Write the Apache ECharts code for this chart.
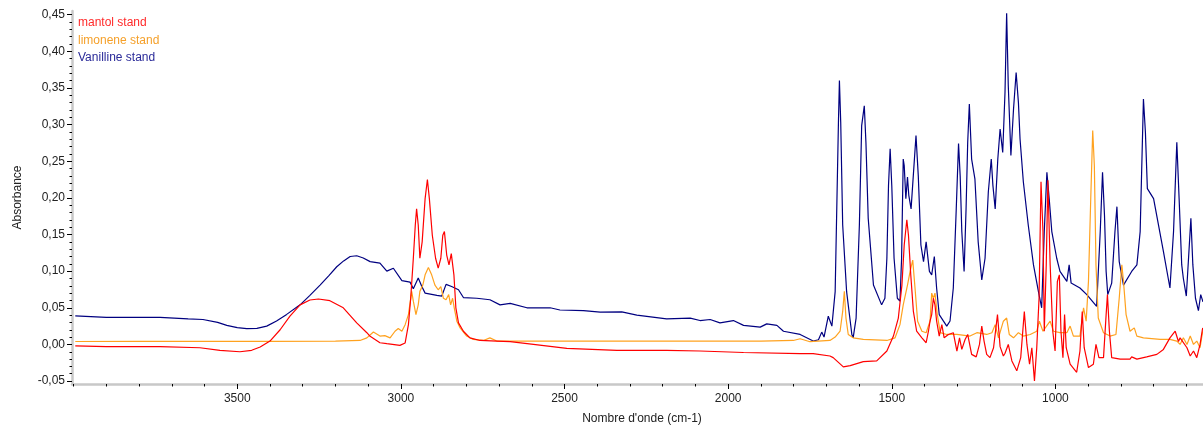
<!DOCTYPE html>
<html>
<head>
<meta charset="utf-8">
<script src="https://cdn.jsdelivr.net/npm/echarts@6/dist/echarts.min.js"></script>
<style>
html,body{margin:0;padding:0;background:#fff;}
#chart{width:1203px;height:430px;}
</style>
</head>
<body>
<div id="chart"></div>
<script>
// ---- data: [wavenumber (cm-1), absorbance] ----
const seriesNames = ['mantol stand', 'limonene stand', 'Vanilline stand'];

const mantolData = [
[3995,-0.002],[3900,-0.003],[3736,-0.003],[3614,-0.0045],[3553,-0.008],[3492,-0.010],[3456,-0.008],
[3430,-0.0035],[3400,0.0046],[3369,0.020],[3339,0.0385],[3308,0.054],[3278,0.0606],[3252,0.062],
[3217,0.0597],[3176,0.050],[3135,0.0294],[3104,0.016],[3094,0.011],[3064,0.0023],[3043,0.001],
[3003,-0.0013],[2987,0.002],[2977,0.027],[2970,0.063],[2962,0.1176],[2956,0.163],[2952,0.185],
[2947,0.163],[2942,0.1176],[2935,0.14],[2926,0.199],[2919,0.225],[2913,0.199],[2904,0.149],
[2894,0.1176],[2886,0.104],[2878,0.1176],[2872,0.149],[2867,0.154],[2860,0.122],[2853,0.1085],
[2846,0.124],[2843,0.126],[2838,0.095],[2832,0.05],[2824,0.0294],[2809,0.018],[2789,0.009],
[2758,0.0054],[2707,0.0046],[2666,0.0037],[2595,0.0],[2493,-0.0054],[2340,-0.008],[2188,-0.008],
[2086,-0.009],[1953,-0.011],[1780,-0.0126],[1740,-0.0126],[1689,-0.0158],[1679,-0.018],
[1648,-0.0307],[1627,-0.029],[1587,-0.0235],[1546,-0.0225],[1515,-0.009],[1495,0.0114],
[1480,0.036],[1469,0.081],[1462,0.1357],[1454,0.17],[1449,0.149],[1442,0.095],[1434,0.045],
[1424,0.018],[1408,0.009],[1395,0.0023],[1388,0.018],[1383,0.032],[1378,0.0407],[1373,0.063],
[1368,0.054],[1363,0.032],[1355,0.0114],[1347,0.027],[1340,0.009],[1327,0.0136],[1312,0.016],
[1301,-0.009],[1293,0.009],[1286,-0.0068],[1276,0.0068],[1268,0.0136],[1256,-0.0136],
[1242,-0.017],[1232,0.0],[1225,0.025],[1218,0.0046],[1210,-0.0136],[1200,-0.018],[1189,-0.0045],
[1177,0.0407],[1169,-0.003],[1159,-0.0158],[1154,-0.012],[1144,0.0],[1133,-0.0225],[1118,-0.036],
[1106,-0.018],[1095,0.045],[1087,0.0],[1079,-0.027],[1072,-0.0045],[1064,-0.0497],[1057,-0.0045],
[1050,0.063],[1044,0.222],[1038,0.154],[1034,0.018],[1028,0.1085],[1023,0.224],[1016,0.1085],
[1008,0.018],[1001,-0.009],[994,0.086],[988,0.095],[983,0.018],[977,-0.018],[972,0.0407],
[967,-0.0045],[955,-0.027],[935,-0.038],[925,-0.009],[918,0.045],[912,-0.0045],[899,-0.0316],
[884,-0.027],[876,0.0],[867,-0.018],[853,-0.018],[845,0.0407],[841,0.068],[835,0.018],
[828,-0.018],[802,-0.02],[772,-0.02],[767,-0.017],[751,-0.02],[721,-0.017],[690,-0.0136],
[670,-0.0068],[650,0.009],[634,0.018],[624,0.004],[619,0.009],[598,-0.0045],[588,-0.0158],
[578,-0.009],[568,-0.018],[558,0.0],[550,0.0226]
];

const limoneneData = [
[3995,0.004],[3800,0.0042],[3600,0.0042],[3400,0.0042],[3200,0.0045],[3125,0.0054],[3104,0.009],
[3084,0.017],[3064,0.0114],[3049,0.012],[3033,0.009],[3018,0.018],[3008,0.0217],[2997,0.018],
[2987,0.027],[2977,0.0407],[2967,0.0724],[2962,0.059],[2954,0.0407],[2947,0.054],[2942,0.0724],
[2933,0.081],[2926,0.095],[2916,0.105],[2906,0.095],[2896,0.081],[2886,0.0746],[2878,0.079],
[2870,0.063],[2862,0.061],[2854,0.068],[2848,0.054],[2842,0.063],[2837,0.05],[2829,0.0317],
[2819,0.0226],[2799,0.0114],[2779,0.0068],[2748,0.0054],[2728,0.009],[2707,0.0046],[2500,0.0046],
[2200,0.0046],[1900,0.0046],[1801,0.0054],[1780,0.0077],[1750,0.0037],[1689,0.0054],[1673,0.010],
[1658,0.018],[1650,0.045],[1645,0.0724],[1640,0.036],[1633,0.0136],[1618,0.009],[1587,0.0068],
[1515,0.0054],[1490,0.009],[1475,0.027],[1465,0.054],[1452,0.081],[1444,0.0996],[1436,0.115],
[1429,0.077],[1421,0.0317],[1408,0.018],[1395,0.016],[1383,0.032],[1378,0.070],[1373,0.063],
[1368,0.070],[1361,0.0407],[1352,0.016],[1332,0.0136],[1301,0.0136],[1261,0.0114],[1240,0.016],
[1210,0.0136],[1194,0.016],[1184,0.027],[1174,0.009],[1159,0.0317],[1149,0.036],[1141,0.0136],
[1128,0.009],[1113,0.016],[1098,0.0114],[1077,0.0136],[1057,0.018],[1049,0.0317],[1038,0.018],
[1024,0.027],[1016,0.0317],[1006,0.018],[986,0.016],[965,0.016],[955,0.025],[945,0.0114],
[925,0.0114],[914,0.05],[906,0.0317],[899,0.086],[892,0.199],[886,0.292],[881,0.244],[876,0.1085],
[869,0.036],[853,0.016],[833,0.0114],[815,0.0136],[805,0.063],[797,0.1085],[792,0.086],
[784,0.0407],[772,0.018],[759,0.0226],[751,0.0114],[731,0.009],[680,0.0068],[650,0.0068],
[629,0.0046],[619,0.0],[609,0.009],[598,0.0],[588,0.0114],[578,0.0],[568,0.0046],[558,-0.0045],
[550,0.018]
];

const vanillineData = [
[3995,0.039],[3900,0.037],[3800,0.037],[3736,0.037],[3650,0.035],[3605,0.034],[3560,0.030],
[3532,0.026],[3500,0.023],[3471,0.0215],[3440,0.022],[3410,0.025],[3380,0.032],[3349,0.041],
[3308,0.054],[3278,0.067],[3247,0.081],[3220,0.094],[3196,0.106],[3175,0.114],[3155,0.12],
[3135,0.121],[3115,0.118],[3094,0.113],[3064,0.111],[3043,0.100],[3023,0.104],[2997,0.087],
[2972,0.085],[2962,0.076],[2947,0.0905],[2936,0.079],[2926,0.070],[2890,0.067],[2875,0.066],
[2862,0.082],[2845,0.079],[2824,0.0746],[2809,0.064],[2768,0.063],[2728,0.061],[2697,0.054],
[2666,0.056],[2615,0.050],[2544,0.050],[2514,0.047],[2442,0.046],[2391,0.044],[2325,0.0444],
[2279,0.040],[2188,0.035],[2116,0.036],[2086,0.0326],[2055,0.034],[2025,0.0294],[1984,0.0326],
[1953,0.026],[1902,0.0236],[1882,0.028],[1851,0.026],[1831,0.018],[1780,0.0136],[1740,0.0046],
[1724,0.0064],[1714,0.0168],[1707,0.010],[1694,0.0385],[1683,0.025],[1673,0.072],[1663,0.303],
[1660,0.36],[1656,0.303],[1650,0.163],[1638,0.072],[1622,0.0136],[1618,0.009],[1609,0.036],
[1599,0.163],[1592,0.2985],[1584,0.3256],[1579,0.276],[1572,0.172],[1556,0.081],[1531,0.054],
[1521,0.063],[1515,0.1176],[1510,0.217],[1505,0.267],[1500,0.217],[1493,0.1176],[1483,0.063],
[1475,0.059],[1470,0.1176],[1465,0.253],[1462,0.244],[1457,0.199],[1452,0.2285],[1448,0.2035],
[1441,0.185],[1426,0.285],[1419,0.23],[1411,0.1357],[1403,0.113],[1395,0.14],[1385,0.0996],
[1378,0.095],[1370,0.12],[1363,0.077],[1355,0.0407],[1342,0.0317],[1332,0.025],[1322,0.032],
[1312,0.077],[1303,0.185],[1296,0.274],[1291,0.23],[1286,0.154],[1279,0.0996],[1273,0.185],
[1268,0.276],[1263,0.328],[1256,0.253],[1246,0.226],[1236,0.14],[1225,0.088],[1215,0.1176],
[1205,0.208],[1196,0.253],[1191,0.217],[1184,0.185],[1176,0.253],[1169,0.294],[1161,0.262],
[1154,0.344],[1149,0.452],[1144,0.353],[1136,0.258],[1128,0.321],[1120,0.371],[1113,0.33],
[1108,0.28],[1098,0.222],[1083,0.163],[1067,0.1085],[1052,0.0724],[1042,0.05],[1034,0.154],
[1026,0.235],[1019,0.199],[1011,0.154],[996,0.1176],[986,0.0996],[965,0.086],[958,0.1085],
[952,0.0837],[925,0.077],[904,0.068],[874,0.052],[863,0.154],[856,0.235],[850,0.176],[845,0.0996],
[840,0.068],[828,0.0837],[818,0.154],[812,0.188],[805,0.113],[792,0.081],[767,0.0996],
[751,0.1085],[741,0.154],[731,0.335],[725,0.29],[719,0.2126],[700,0.199],[670,0.127],[650,0.077],
[639,0.154],[629,0.276],[622,0.199],[614,0.1085],[609,0.09],[600,0.066],[586,0.172],[580,0.1085],
[572,0.063],[563,0.046],[556,0.068],[549,0.058]
];

// ---- axis ticks ----
const xTickLabels = [3500, 3000, 2500, 2000, 1500, 1000];
const xMinorTicks = [600,700,800,900,1000,1100,1200,1300,1400,1500,1600,1700,1800,1900,2000,2100,2200,2300,2400,2500,2600,2700,2800,2900,3000,3100,3200,3300,3400,3500,3600,3700,3800,3900,4000];
const yTickLabels = [-0.05, 0.00, 0.05, 0.10, 0.15, 0.20, 0.25, 0.30, 0.35, 0.40, 0.45];
const yMinorTicks = [-0.05,-0.04,-0.03,-0.02,-0.01,0,0.01,0.02,0.03,0.04,0.05,0.06,0.07,0.08,0.09,0.10,0.11,0.12,0.13,0.14,0.15,0.16,0.17,0.18,0.19,0.20,0.21,0.22,0.23,0.24,0.25,0.26,0.27,0.28,0.29,0.30,0.31,0.32,0.33,0.34,0.35,0.36,0.37,0.38,0.39,0.40,0.41,0.42,0.43,0.44,0.45];

const colors = { mantol: '#ff0000', limonene: '#ffa21f', vanilline: '#000080' };
const FONT = 'Arial, "Liberation Sans", sans-serif';
const X_MIN = 549, X_MAX = 4005, Y_MIN = -0.054, Y_MAX = 0.455;

const chart = echarts.init(document.getElementById('chart'), null, { renderer: 'canvas' });

const baseX = {
  type: 'value', min: X_MIN, max: X_MAX, inverse: true, gridIndex: 0,
  splitLine: { show: false }
};
const baseY = {
  type: 'value', min: Y_MIN, max: Y_MAX, gridIndex: 0,
  splitLine: { show: false }
};

chart.setOption({
  animation: false,
  backgroundColor: '#ffffff',
  grid: { left: 72, right: 0, top: 11, bottom: 43.5, containLabel: false },
  legend: {
    orient: 'vertical', left: 73, top: 16.5, padding: 0, icon: 'none', itemWidth: 0, itemHeight: 12, itemGap: 4.5,
    selectedMode: false,
    textStyle: { fontFamily: FONT, fontSize: 12, lineHeight: 13 },
    data: [
      { name: seriesNames[0], textStyle: { color: '#ff2a2a' } },
      { name: seriesNames[1], textStyle: { color: '#f5a02a' } },
      { name: seriesNames[2], textStyle: { color: '#2a2a99' } }
    ]
  },
  xAxis: [
    Object.assign({}, baseX, {
      position: 'bottom',
      name: "Nombre d'onde (cm-1)", nameLocation: 'middle', nameGap: 29,
      nameTextStyle: { fontFamily: FONT, fontSize: 12, color: '#222', padding: [0, 0, 0, 9] },
      axisLine: { show: true, onZero: false, lineStyle: { color: '#c8c8c8', width: 2.5 } },
      axisTick: { show: true, customValues: xMinorTicks, length: 2.5, lineStyle: { color: '#000', width: 1 } },
      axisLabel: { show: true, customValues: xTickLabels, margin: 9, fontFamily: FONT, fontSize: 12, color: '#222',
        formatter: v => String(Math.round(v)) }
    }),
    Object.assign({}, baseX, {
      position: 'bottom',
      axisLine: { show: false, onZero: false },
      axisTick: { show: true, customValues: xTickLabels, length: 5, lineStyle: { color: '#000', width: 1 } },
      axisLabel: { show: false }
    })
  ],
  yAxis: [
    Object.assign({}, baseY, {
      position: 'left',
      name: 'Absorbance', nameLocation: 'middle', nameGap: 48, nameRotate: 90,
      nameTextStyle: { fontFamily: FONT, fontSize: 12, color: '#222' },
      axisLine: { show: true, onZero: false, lineStyle: { color: '#c8c8c8', width: 2.5 } },
      axisTick: { show: true, customValues: yMinorTicks, length: 2.5, lineStyle: { color: '#000', width: 1 } },
      axisLabel: { show: true, customValues: yTickLabels, margin: 7, fontFamily: FONT, fontSize: 12, color: '#222',
        formatter: v => v.toFixed(2).replace('.', ',') }
    }),
    Object.assign({}, baseY, {
      position: 'left',
      axisLine: { show: false, onZero: false },
      axisTick: { show: true, customValues: yTickLabels, length: 5, lineStyle: { color: '#000', width: 1 } },
      axisLabel: { show: false }
    })
  ],
  series: [
    { name: seriesNames[2], type: 'line', data: vanillineData, xAxisIndex: 0, yAxisIndex: 0,
      showSymbol: false, symbol: 'none', lineStyle: { color: colors.vanilline, width: 1.2 }, itemStyle: { color: colors.vanilline }, z: 2 },
    { name: seriesNames[1], type: 'line', data: limoneneData, xAxisIndex: 0, yAxisIndex: 0,
      showSymbol: false, symbol: 'none', lineStyle: { color: colors.limonene, width: 1.2 }, itemStyle: { color: colors.limonene }, z: 3 },
    { name: seriesNames[0], type: 'line', data: mantolData, xAxisIndex: 0, yAxisIndex: 0,
      showSymbol: false, symbol: 'none', lineStyle: { color: colors.mantol, width: 1.2 }, itemStyle: { color: colors.mantol }, z: 4 }
  ]
});
</script>
</body>
</html>
